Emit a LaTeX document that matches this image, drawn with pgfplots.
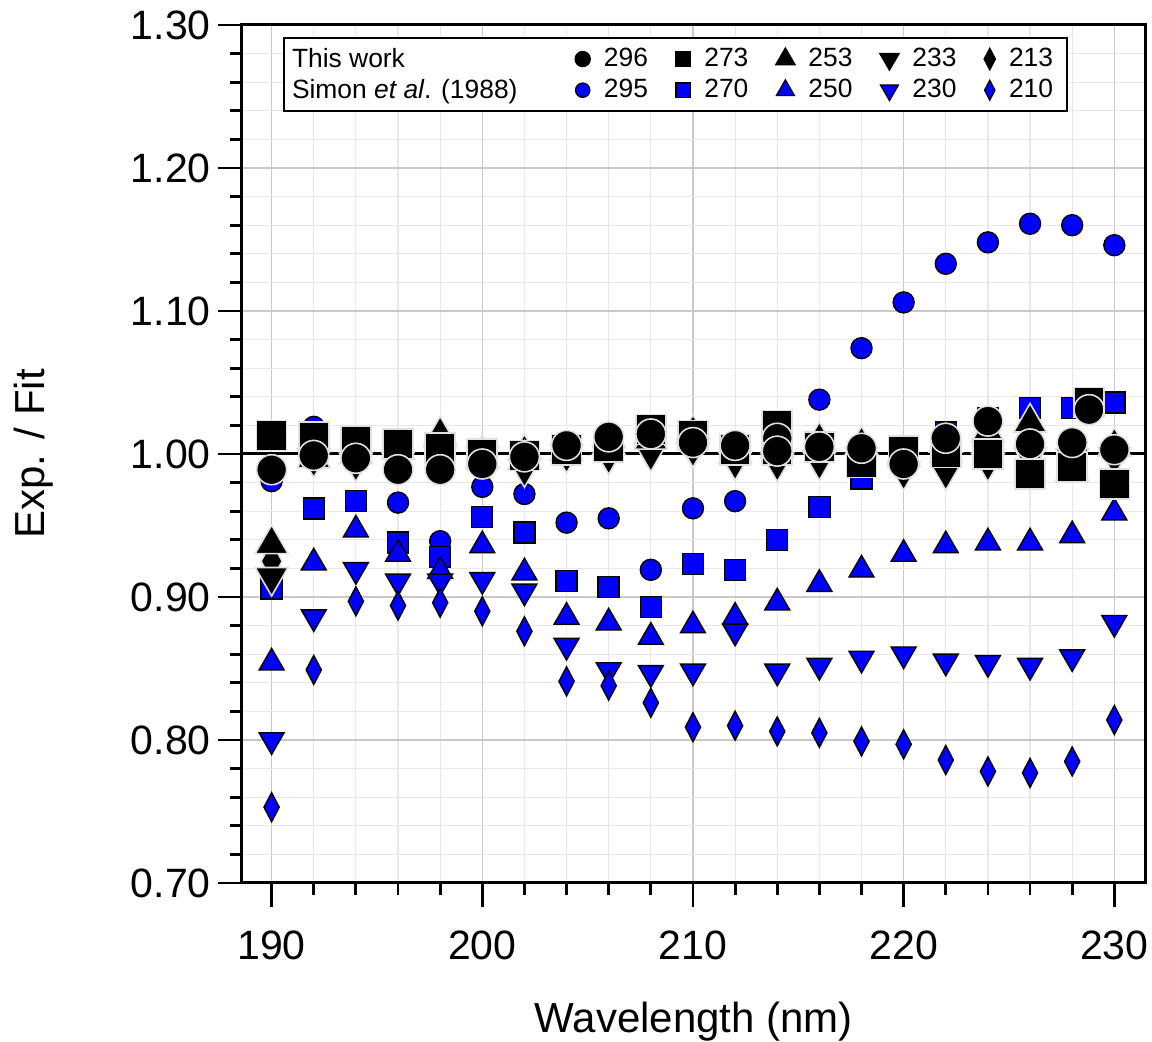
\documentclass[border=0pt]{standalone}
\usepackage{pgfplots}
\pgfplotsset{compat=1.18}
\usepackage{fontspec}
\setmainfont{Liberation Sans}
\definecolor{sblue}{RGB}{0,0,255}
\pgfplotsset{
  bk/.style={only marks, forget plot, mark options={fill=black, draw=white!88!black, line width=0.8pt, #1}},
  bk/.default={},
  bl/.style={only marks, forget plot, mark options={fill=sblue, draw=black, line width=0.7pt, #1}},
  bl/.default={},
}
\begin{document}
\begin{tikzpicture}
\path[use as bounding box] (-120.85pt,-79.5pt) rectangle (455.15pt,441.5pt);
\begin{axis}[
  at={(0,0)}, anchor=south west,
  scale only axis, width=452pt, height=429pt,
  xmin=188.58, xmax=231.49, ymin=0.70, ymax=1.30,
  xtick={190,200,...,230}, ytick={0.7,0.8,...,1.31},
  minor x tick num=4, minor y tick num=4,
  xtick pos=lower, ytick pos=left,
  tick align=outside,
  major tick length=12pt, minor tick length=6pt,
  every tick/.style={black, line width=1.4pt},
  axis line style={line width=1.5pt},
  grid=both,
  major grid style={gray!42, line width=0.6pt},
  minor grid style={gray!18, line width=0.6pt},
  /pgf/number format/assume math mode=true,
  yticklabel style={/pgf/number format/.cd, fixed, fixed zerofill, precision=2},
  ticklabel style={font=\fontsize{20.5}{24}\selectfont},
  xticklabel style={yshift=-8.5pt, /pgf/number format/.cd, fixed, precision=0, set thousands separator={}},
  xlabel={Wavelength (nm)},
  ylabel={Exp. / Fit},
  label style={font=\fontsize{21}{25}\selectfont},
  xlabel style={at={(axis description cs:0.5,-0.1748)}, anchor=base},
  ylabel style={at={(axis description cs:-0.2298,0.5)}, anchor=center, rotate=0},
  legend columns=6,
  legend cell align=left,
  legend style={at={(axis description cs:0.0457,0.986)}, anchor=north west,
    draw=black, line width=1pt, inner xsep=4pt, inner ysep=4pt,
    font=\fontsize{13.2}{15}\selectfont,
    nodes={inner sep=1pt},
    row sep=2.5pt,
    /tikz/every odd column/.append style={column sep=6pt},
    /tikz/every even column/.append style={column sep=13pt}},
]
% legend
\addlegendimage{empty legend}\addlegendentry{\hspace*{-7pt}This work}
\addlegendimage{only marks, mark=*, mark size=3.6pt, black}\addlegendentry{296}
\addlegendimage{only marks, mark=square*, mark size=3.6pt, black}\addlegendentry{273}
\addlegendimage{only marks, mark=triangle*, mark size=5.2pt, black}\addlegendentry{253}
\addlegendimage{only marks, mark=triangle*, mark size=5.2pt, black, mark options={rotate=180}}\addlegendentry{233}
\addlegendimage{only marks, mark=diamond*, mark size=5pt, black, mark options={xscale=0.7}}\addlegendentry{213\hspace*{2pt}}
\addlegendimage{empty legend}\addlegendentry{\hspace*{-7pt}Simon \textit{et al}. (1988)\hspace*{15pt}}
\addlegendimage{only marks, mark=*, mark size=3.6pt, mark options={fill=sblue, draw=black, line width=0.6pt}}\addlegendentry{295}
\addlegendimage{only marks, mark=square*, mark size=3.6pt, mark options={fill=sblue, draw=black, line width=0.6pt}}\addlegendentry{270}
\addlegendimage{only marks, mark=triangle*, mark size=5.2pt, mark options={fill=sblue, draw=black, line width=0.6pt}}\addlegendentry{250}
\addlegendimage{only marks, mark=triangle*, mark size=5.2pt, mark options={fill=sblue, draw=black, line width=0.6pt, rotate=180}}\addlegendentry{230}
\addlegendimage{only marks, mark=diamond*, mark size=5pt, mark options={fill=sblue, draw=black, line width=0.6pt, xscale=0.7}}\addlegendentry{210\hspace*{2pt}}

% Simon et al. (1988) -- blue
\addplot[bl, mark=*, mark size=5.25pt] coordinates {
(190,0.981)(192,1.019)(194,1.000)(196,0.966)(198,0.939)(200,0.977)(202,0.972)(204,0.952)(206,0.955)(208,0.919)(210,0.962)(212,0.967)(214,1.005)(216,1.038)(218,1.074)(220,1.106)(222,1.133)(224,1.148)(226,1.161)(228,1.160)(230,1.146)};
\addplot[bl, mark=square*, mark size=5.25pt] coordinates {
(190,0.906)(192,0.962)(194,0.967)(196,0.938)(198,0.928)(200,0.956)(202,0.945)(204,0.911)(206,0.907)(208,0.893)(210,0.923)(212,0.919)(214,0.940)(216,0.963)(218,0.983)(220,0.995)(222,1.015)(224,1.025)(226,1.032)(228,1.032)(230,1.036)};
\addplot[bl, mark=triangle*, mark size=7.2pt] coordinates {
(190,0.854)(192,0.924)(194,0.947)(196,0.930)(198,0.918)(200,0.936)(202,0.917)(204,0.886)(206,0.882)(208,0.872)(210,0.880)(212,0.886)(214,0.896)(216,0.909)(218,0.919)(220,0.930)(222,0.936)(224,0.938)(226,0.938)(228,0.943)(230,0.959)};
\addplot[bl={rotate=180}, mark=triangle*, mark size=7.2pt] coordinates {
(190,0.800)(192,0.886)(194,0.919)(196,0.911)(198,0.911)(200,0.912)(202,0.904)(204,0.866)(206,0.849)(208,0.847)(210,0.848)(212,0.876)(214,0.848)(216,0.852)(218,0.857)(220,0.860)(222,0.855)(224,0.854)(226,0.852)(228,0.858)(230,0.882)};
\addplot[bl={xscale=0.7}, mark=diamond*, mark size=7.25pt] coordinates {
(190,0.753)(192,0.849)(194,0.897)(196,0.894)(198,0.896)(200,0.890)(202,0.876)(204,0.841)(206,0.838)(208,0.826)(210,0.809)(212,0.810)(214,0.806)(216,0.805)(218,0.799)(220,0.797)(222,0.786)(224,0.778)(226,0.777)(228,0.785)(230,0.814)};

% reference line
\addplot[black, line width=1.5pt, forget plot] coordinates {(188.58,1)(231.49,1)};

% This work -- black
\addplot[bk={xscale=0.7}, mark=diamond*, mark size=10pt] coordinates {
(190,0.925)(192,1.000)(194,1.002)(196,0.998)(198,1.003)(200,0.999)(202,1.000)(204,1.002)(206,1.004)(208,1.005)(210,1.004)(212,1.001)(214,1.003)(216,1.002)(218,1.000)(220,0.998)(222,1.002)(224,1.004)(226,1.003)(228,1.001)(230,1.000)};
\addplot[bk={rotate=180}, mark=triangle*, mark size=9.5pt] coordinates {
(190,0.914)(192,0.997)(194,0.994)(196,0.995)(198,0.998)(200,0.998)(202,0.990)(204,1.000)(206,0.999)(208,1.001)(210,1.004)(212,0.995)(214,0.994)(216,0.995)(218,0.998)(220,0.988)(222,0.988)(224,0.994)(226,0.998)(228,0.997)(230,0.998)};
\addplot[bk, mark=triangle*, mark size=9.5pt] coordinates {
(190,0.937)(192,0.997)(194,1.000)(196,1.003)(198,1.013)(200,0.997)(202,0.996)(204,1.002)(206,1.006)(208,1.010)(210,1.014)(212,1.000)(214,1.004)(216,1.009)(218,1.006)(220,0.998)(222,1.008)(224,1.015)(226,1.022)(228,0.988)(230,1.005)};
\addplot[bk, mark=square*, mark size=7.5pt] coordinates {
(190,1.013)(192,1.012)(194,1.009)(196,1.007)(198,1.004)(200,1.000)(202,0.999)(204,1.003)(206,1.005)(208,1.017)(210,1.013)(212,1.003)(214,1.020)(214,1.003)(216,1.005)(218,0.994)(220,1.002)(222,1.001)(224,1.000)(226,0.986)(228,0.991)(228.8,1.036)(230,0.979)};
\addplot[bk, mark=*, mark size=7.5pt] coordinates {
(190,0.989)(192,0.999)(194,0.997)(196,0.989)(198,0.989)(200,0.993)(202,0.998)(204,1.006)(206,1.012)(208,1.014)(210,1.008)(212,1.006)(214,1.011)(214,1.002)(216,1.005)(218,1.004)(220,0.993)(222,1.011)(224,1.023)(226,1.007)(228,1.008)(228.8,1.031)(230,1.003)};
\end{axis}
\end{tikzpicture}
\end{document}
